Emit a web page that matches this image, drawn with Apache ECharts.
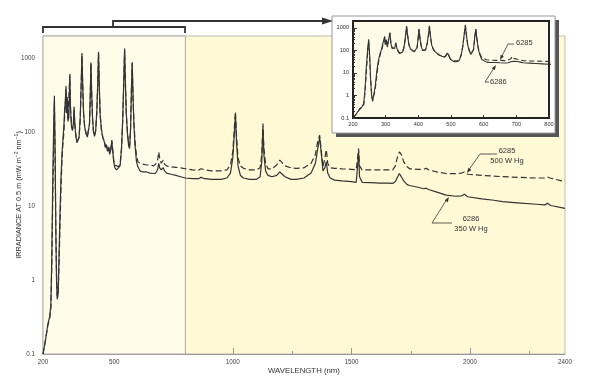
<!DOCTYPE html>
<html><head><meta charset="utf-8">
<script src="https://cdn.jsdelivr.net/npm/echarts@6/dist/echarts.min.js"></script>
<style>html,body{margin:0;padding:0;background:#fff}#c{width:600px;height:391px}</style>
</head><body><div id="c"></div>
<script>
// Wavelength (nm)
const wavelength = [
 200,210,220,228,233,237,241,245,248,251,254,257,260,264,268,272,276,280,284,288,
 291,294,297,299,302,305,309,313,316,320,324,328,331,334,338,343,347,352,357,361,
 364,367,371,376,382,387,392,396,399,402,405,409,413,417,422,427,431,434,437,441,
 446,452,458,463,467,472,477,481,486,490,494,498,503,510,518,525,531,536,540,544,
 547,551,556,561,565,569,573,576,579,583,588,594,600,609,620,637,650,665,675,683,
 688,692,698,703,707,712,721,740,760,780,800,830,855,866,873,882,910,950,975,990,
 1000,1006,1011,1016,1022,1032,1045,1070,1100,1115,1122,1127,1131,1138,1148,1165,1185,1198,1205,1220,
 1245,1268,1300,1330,1348,1358,1366,1372,1380,1388,1394,1400,1410,1429,1460,1500,1520,1526,1530,1534,
 1545,1580,1620,1650,1674,1685,1695,1702,1710,1720,1735,1745,1780,1805,1815,1825,1860,1899,1940,1965,
 1976,1990,2050,2100,2137,2200,2280,2315,2326,2340,2400
];
// 6286, 350 W Hg (solid line)
const irr6286 = [
 0.1,0.15,0.25,0.32,0.45,2,20,120,310,60,5,1.0,0.55,0.65,2.5,9,25,50,80,120,
 200,260,420,180,300,140,160,610,200,120,105,130,220,130,90,72,69,85,160,450,
 1180,500,180,115,95,86,86,130,300,875,350,150,100,88,105,200,500,1220,450,170,
 110,85,75,62,68,55,62,50,58,75,55,40,33,31,31,35,60,150,450,1350,
 500,180,95,65,60,110,420,880,350,130,65,40,34,30,29,29,28,27.6,28,31,
 38,33,31,32,33,30,28,27,26,25,24,23.5,23.5,24.5,25,23.5,23,23,24,28,
 45,90,170,70,35,26,24,23,23,25,40,120,50,30,26,25,26,29,28,25,
 23,23,24,28,38,60,85,55,30,33,40,28,24,22.5,22,21.5,21,35,55,25,
 21,20.8,20.5,20.5,20.3,21.5,25,27.6,26,22,19.5,19,18,17.2,17.5,16.8,15.5,14.1,13.6,13.8,
 14.5,13.4,12.5,12,11.5,11.1,10.6,10.4,10.9,10.2,9.3
];
// 6285, 500 W Hg (dashed line)
const irr6285 = [
 0.1,0.15,0.24,0.3,0.4,1.5,12,80,250,50,5,1.2,0.6,0.7,1.8,6,18,42,70,100,
 160,240,380,190,280,150,150,580,210,130,110,120,200,130,95,75,72,85,150,420,
 1100,480,180,115,95,88,90,130,280,850,340,150,100,90,105,190,480,1150,420,170,
 110,85,78,64,70,57,64,52,60,78,58,42,36,34,34,37,62,150,430,1300,
 500,180,98,70,65,110,400,860,340,140,75,48,40,38,37,36,36,35,37,42,
 54,44,38,40,42,37,35,34,33.5,33,32,31,30.5,32,33,31,30,30,31,36,
 55,110,190,85,45,35,32.5,31,31,33,50,131,60,38,32,32,36,42,41,35,
 33,32.5,33,38,50,75,91,60,34,45,58,38,33,32.5,32,31.5,31,45,60,35,
 31,31,31,31,31,35,48,54,50,40,34,32,31.5,31.5,32.5,31,29,27.6,27.5,28,
 29,27,26,25.5,25,24.5,24,24,24.8,23.8,21.5
];
const xLabelsMain = [200, 500, 1000, 1500, 2000, 2400];
const xMajorTicksMain = [500, 1000, 1500, 2000];
const xMinorTicksMain = [250, 750, 1250, 1750, 2250];
const yLabels = [0.1, 1, 10, 100, 1000];
const yMinorTicks = [0.2,0.3,0.4,0.5,0.6,0.7,0.8,0.9, 2,3,4,5,6,7,8,9, 20,30,40,50,60,70,80,90, 200,300,400,500,600,700,800,900, 2000];

const s6286 = wavelength.map((w, i) => [w, irr6286[i]]);
const s6285 = wavelength.map((w, i) => [w, irr6285[i]]);

const FONT = 'Liberation Sans, Arial, sans-serif';
const fmt = v => (v < 1 ? (+v).toFixed(1) : String(Math.round(v)));
const fmtX = v => String(Math.round(v));

function head(x1, y1, x2, y2, len, w, z) {
  const a = Math.atan2(y2 - y1, x2 - x1);
  const bx = x2 - len * Math.cos(a), by = y2 - len * Math.sin(a);
  const px = -Math.sin(a) * w, py = Math.cos(a) * w;
  return {type: 'polygon', z: z || 30, silent: true,
    shape: {points: [[x2, y2], [bx + px, by + py], [bx - px, by - py]]},
    style: {fill: '#333'}};
}
function pl(points, lw, z) {
  return {type: 'polyline', z: z || 30, silent: true, shape: {points}, style: {stroke: '#333', lineWidth: lw || 0.8, fill: null}};
}
function txt(x, y, text, size, align, z) {
  return {type: 'text', z: z || 30, silent: true, x, y,
    style: {text, fill: '#333', font: size + 'px ' + FONT, align: align || 'center', verticalAlign: 'middle', lineHeight: 9.5}};
}

const chart = echarts.init(document.getElementById('c'));
const option = {
  animation: false,
  backgroundColor: '#ffffff',
  textStyle: {fontFamily: FONT},
  grid: [
    {left: 43, top: 36, width: 522, height: 318, outerBoundsMode: 'none', containLabel: false, show: true, backgroundColor: '#fff9d6', borderColor: '#bdbdb0', borderWidth: 1, z: 0},
    {left: 353, top: 21, width: 196, height: 97, outerBoundsMode: 'none', containLabel: false, show: true, backgroundColor: '#fffbe8', borderColor: '#222', borderWidth: 2, z: 11}
  ],
  xAxis: [
    {gridIndex: 0, type: 'value', min: 200, max: 2400,
      axisLine: {lineStyle: {color: '#999'}},
      axisTick: {inside: true, length: 6, customValues: xMajorTicksMain, lineStyle: {color: '#999'}},
      axisLabel: {customValues: xLabelsMain, fontSize: 6.3, color: '#444', margin: 5, formatter: fmtX},
      splitLine: {show: false},
      name: 'WAVELENGTH (nm)', nameLocation: 'middle', nameGap: 13, nameMoveOverlap: false,
      nameTextStyle: {fontSize: 7.8, color: '#333'}},
    {gridIndex: 0, type: 'value', min: 200, max: 2400, position: 'bottom',
      axisLine: {show: false},
      axisTick: {inside: true, length: 3, customValues: xMinorTicksMain, lineStyle: {color: '#999'}},
      axisLabel: {show: false}, splitLine: {show: false}},
    {gridIndex: 1, type: 'value', min: 200, max: 800, interval: 100, z: 12,
      axisLine: {show: false},
      axisTick: {inside: true, length: 3, lineStyle: {color: '#333'}},
      axisLabel: {fontSize: 5.6, color: '#333', margin: 3, formatter: fmtX},
      splitLine: {show: false}}
  ],
  yAxis: [
    {gridIndex: 0, type: 'log', logBase: 10, min: 0.1, max: 2000,
      axisLine: {show: true, lineStyle: {color: '#999'}},
      axisTick: {show: true, inside: true, length: 6, customValues: yLabels, lineStyle: {color: '#999'}},
      axisLabel: {customValues: yLabels, fontSize: 6.3, color: '#444', margin: 8, formatter: fmt},
      splitLine: {show: false}, minorTick: {show: false},
      name: 'IRRADIANCE AT 0.5 m (mW m{sup|\u22122} nm{sup|\u22121})', nameLocation: 'middle', nameGap: 20, nameMoveOverlap: false,
      nameTextStyle: {fontSize: 7.3, color: '#333', rich: {sup: {fontSize: 5, verticalAlign: 'bottom', padding: [0, 0, 4, 0]}}}},
    {gridIndex: 0, type: 'log', logBase: 10, min: 0.1, max: 2000, position: 'left',
      axisLine: {show: false},
      axisTick: {show: true, inside: true, length: 3.5, customValues: yMinorTicks, lineStyle: {color: '#999'}},
      axisLabel: {show: false}, splitLine: {show: false}},
    {gridIndex: 1, type: 'log', logBase: 10, min: 0.1, max: 2000, z: 12,
      axisLine: {show: false},
      axisTick: {show: true, inside: true, length: 4, customValues: yLabels, lineStyle: {color: '#333'}},
      axisLabel: {customValues: yLabels, fontSize: 5.6, color: '#333', margin: 4, formatter: fmt},
      splitLine: {show: false}},
    {gridIndex: 1, type: 'log', logBase: 10, min: 0.1, max: 2000, z: 12, position: 'left',
      axisLine: {show: false},
      axisTick: {show: true, inside: true, length: 2, customValues: yMinorTicks, lineStyle: {color: '#333'}},
      axisLabel: {show: false}, splitLine: {show: false}}
  ],
  series: [
    {name: '6285', type: 'line', xAxisIndex: 0, yAxisIndex: 0, data: s6285, showSymbol: false, z: 2,
      lineStyle: {color: '#333', width: 1.2, type: [6, 3]},
      markArea: {silent: true, itemStyle: {color: '#fffcea', borderColor: '#aaa', borderWidth: 1},
        data: [[{xAxis: 200}, {xAxis: 800}]]}},
    {name: '6286', type: 'line', xAxisIndex: 0, yAxisIndex: 0, data: s6286, showSymbol: false, z: 3,
      lineStyle: {color: '#333', width: 1.2}},
    {name: '6285i', type: 'line', xAxisIndex: 2, yAxisIndex: 2, data: s6285, showSymbol: false, z: 13,
      lineStyle: {color: '#333', width: 1.1, type: [5, 3]}},
    {name: '6286i', type: 'line', xAxisIndex: 2, yAxisIndex: 2, data: s6286, showSymbol: false, z: 14,
      lineStyle: {color: '#333', width: 1.1}}
  ],
  graphic: [
    {type: 'rect', z: 9, silent: true, shape: {x: 336, y: 20, width: 223, height: 117}, style: {fill: '#555'}},
    {type: 'rect', z: 10, silent: true, shape: {x: 332, y: 16, width: 223, height: 117}, style: {fill: '#fff', stroke: '#999', lineWidth: 1}},
    // bracket over 200-800 region and connector to inset
    pl([[43, 33], [43, 27], [185, 27], [185, 33]], 1.8),
    pl([[113, 27], [113, 21], [323, 21]], 1.8),
    head(113, 21, 333, 21, 11, 3.5),
    // main annotations
    pl([[497, 154], [480, 154], [468, 171]], 0.8),
    head(480, 154, 467, 173, 5, 1.8),
    txt(507, 151, '6285', 7.5), txt(507, 161, '500 W Hg', 7.5),
    pl([[452, 223], [432, 223], [447, 199]], 0.8),
    head(432, 223, 449, 197, 5, 1.8),
    txt(471, 219, '6286', 7.5), txt(471, 229, '350 W Hg', 7.5),
    // inset annotations
    pl([[514, 44], [508, 44], [501, 58]], 0.8),
    head(508, 44, 500, 60, 5, 1.8),
    txt(516, 43, '6285', 7.5, 'left'),
    pl([[489, 82], [485, 82], [494, 68]], 0.8),
    head(485, 82, 496, 65, 5, 1.8),
    txt(490, 82, '6286', 7.5, 'left')
  ]
};
chart.setOption(option);
</script>
</body></html>
